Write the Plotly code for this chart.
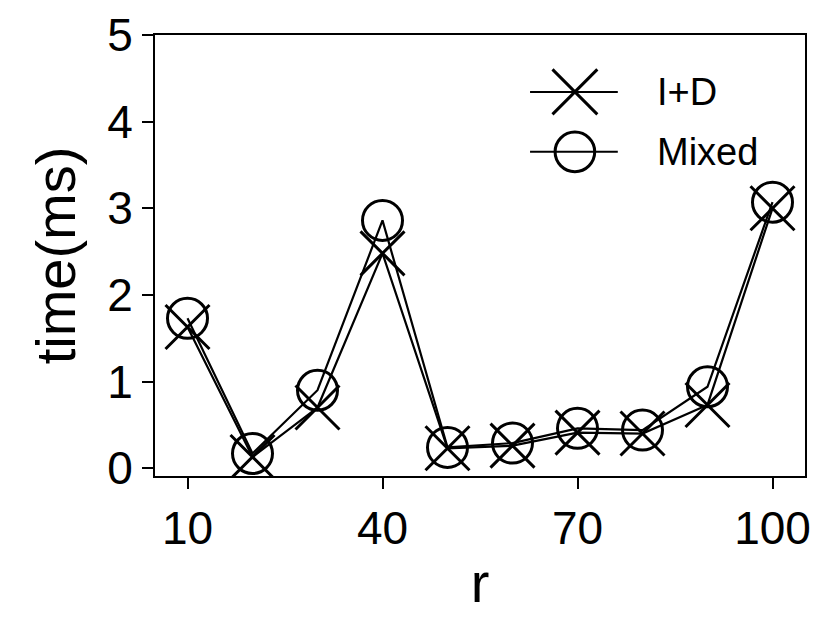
import plotly.graph_objects as go

r = [10, 20, 30, 40, 50, 60, 70, 80, 90, 100]
id_time = [1.63, 0.13, 0.70, 2.48, 0.23, 0.26, 0.41, 0.40, 0.73, 3.00]
mixed_time = [1.73, 0.17, 0.90, 2.86, 0.24, 0.29, 0.46, 0.44, 0.94, 3.07]
x_ticks = [10, 40, 70, 100]
y_ticks = [0, 1, 2, 3, 4, 5]
series_names = ["I+D", "Mixed"]

FONT = "Liberation Sans, Arial, Helvetica, sans-serif"

fig = go.Figure()
fig.add_trace(go.Scatter(
    x=r, y=id_time, name=series_names[0], mode="lines+markers",
    line=dict(color="black", width=2.2),
    marker=dict(symbol="x-thin-open", size=44, color="black",
                line=dict(color="black", width=3)),
))
fig.add_trace(go.Scatter(
    x=r, y=mixed_time, name=series_names[1], mode="lines+markers",
    line=dict(color="black", width=2.2),
    marker=dict(symbol="circle-open", size=40, color="black",
                line=dict(color="black", width=3)),
))

axis_common = dict(
    showline=True, linecolor="black", linewidth=2, mirror=True,
    ticks="outside", ticklen=11, tickwidth=2, tickcolor="black",
    showgrid=False, zeroline=False, automargin=False,
    tickfont=dict(family=FONT, size=46, color="black"),
)

# custom legend (larger symbols than the built-in legend allows)
shapes = []
annotations = []
L_X0, L_X1, L_XC, L_TX = 0.577, 0.712, 0.646, 0.769
L_Y = [0.871, 0.735]
for yy in L_Y:
    shapes.append(dict(type="line", xref="paper", yref="paper",
                       x0=L_X0, x1=L_X1, y0=yy, y1=yy,
                       line=dict(color="black", width=2)))
dx, dy = 0.0345, 0.051
shapes.append(dict(type="line", xref="paper", yref="paper",
                   x0=L_XC - dx, x1=L_XC + dx, y0=L_Y[0] + dy, y1=L_Y[0] - dy,
                   line=dict(color="black", width=3)))
shapes.append(dict(type="line", xref="paper", yref="paper",
                   x0=L_XC - dx, x1=L_XC + dx, y0=L_Y[0] - dy, y1=L_Y[0] + dy,
                   line=dict(color="black", width=3)))
cx, cy = 0.0305, 0.045
shapes.append(dict(type="circle", xref="paper", yref="paper",
                   x0=L_XC - cx, x1=L_XC + cx, y0=L_Y[1] - cy, y1=L_Y[1] + cy,
                   line=dict(color="black", width=3)))
for name, yy in zip(series_names, L_Y):
    annotations.append(dict(text=name, xref="paper", yref="paper",
                            x=L_TX, y=yy, xanchor="left", yanchor="middle",
                            showarrow=False,
                            font=dict(family=FONT, size=38, color="black")))

fig.update_layout(
    width=824, height=616,
    margin=dict(l=147, r=27, t=27, b=148),
    paper_bgcolor="white", plot_bgcolor="white",
    font=dict(family=FONT, color="black"),
    xaxis=dict(range=[5, 105], tickvals=x_ticks,
               title=dict(text="r", font=dict(family=FONT, size=56), standoff=10),
               **axis_common),
    yaxis=dict(range=[-0.09, 5], tickvals=y_ticks,
               title=dict(text="time(ms)", font=dict(family=FONT, size=56), standoff=14),
               **axis_common),
    showlegend=False,
    shapes=shapes,
    annotations=annotations,
)

fig.write_html("out.html")
